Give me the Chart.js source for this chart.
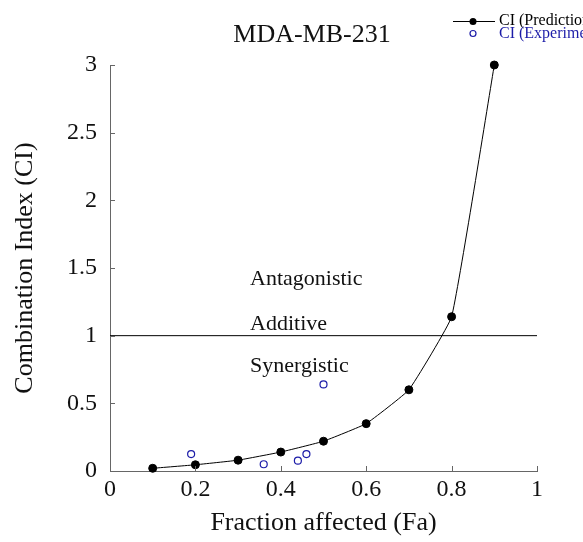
<!DOCTYPE html>
<html>
<head>
<meta charset="utf-8">
<script src="https://cdn.jsdelivr.net/npm/chart.js@4.4.0/dist/chart.umd.min.js"></script>
<style>
body{margin:0;background:#fff}
</style>
</head>
<body>
<canvas id="ci" width="583" height="542"></canvas>
<script>
// values
var faPredicted = [0.1, 0.2, 0.3, 0.4, 0.5, 0.6, 0.7, 0.8, 0.9]
var ciPredicted = [0.02, 0.046, 0.08, 0.14, 0.22, 0.35, 0.6, 1.14, 3.0]
var faExperimental = [0.19, 0.36, 0.44, 0.46, 0.5]
var ciExperimental = [0.125, 0.05, 0.076, 0.125, 0.64]
var additiveFa = [0, 1]
var additiveCi = [1, 1]
var regionLabels = ['Antagonistic', 'Additive', 'Synergistic']
var regionCi = [1.415, 1.083, 0.774]
var regionFa = 0.328
var xTicks = [0, 0.2, 0.4, 0.6, 0.8, 1]
var yTicks = [0, 0.5, 1, 1.5, 2, 2.5, 3]

var serif = "'Liberation Serif', 'Times New Roman', serif"
var blue = '#1c1ca8'

function pts(xs, ys) {
    return xs.map(function (x, i) { return {x: x, y: ys[i]} })
}

// inward ticks, title, region words and the small legend
var decor = {
    id: 'decor',
    afterDraw: function (chart) {
        var ctx = chart.ctx
        var xs = chart.scales.x, ys = chart.scales.y
        var a = chart.chartArea
        ctx.save()
        ctx.strokeStyle = '#666'
        ctx.lineWidth = 1
        ctx.beginPath()
        xTicks.forEach(function (v) {
            var px = Math.round(xs.getPixelForValue(v)) + 0.5
            ctx.moveTo(px, a.bottom)
            ctx.lineTo(px, a.bottom - 5)
        })
        yTicks.forEach(function (v) {
            var py = Math.round(ys.getPixelForValue(v)) + 0.5
            ctx.moveTo(a.left, py)
            ctx.lineTo(a.left + 5, py)
        })
        ctx.stroke()

        ctx.fillStyle = '#111'
        ctx.textBaseline = 'middle'
        ctx.textAlign = 'center'
        ctx.font = '26px ' + serif
        ctx.fillText('MDA-MB-231', 312, 35)

        ctx.textAlign = 'left'
        ctx.font = '22px ' + serif
        regionLabels.forEach(function (t, i) {
            ctx.fillText(t, xs.getPixelForValue(regionFa), ys.getPixelForValue(regionCi[i]))
        })

        // legend
        ctx.font = '16px ' + serif
        ctx.strokeStyle = '#000'
        ctx.beginPath()
        ctx.moveTo(453, 21.5)
        ctx.lineTo(495, 21.5)
        ctx.stroke()
        ctx.fillStyle = '#000'
        ctx.beginPath()
        ctx.arc(473, 21.5, 3.5, 0, Math.PI * 2)
        ctx.fill()
        ctx.fillText('CI (Prediction)', 499, 21)
        ctx.strokeStyle = blue
        ctx.lineWidth = 1.2
        ctx.beginPath()
        ctx.arc(473, 33.5, 3, 0, Math.PI * 2)
        ctx.stroke()
        ctx.fillStyle = blue
        ctx.fillText('CI (Experimental)', 499, 33.5)
        ctx.restore()
    }
}

var config = {
    type: 'scatter',
    data: {
        datasets: [
            {
                label: 'Additive',
                data: pts(additiveFa, additiveCi),
                showLine: true,
                borderColor: '#000',
                borderWidth: 1,
                pointRadius: 0,
                clip: false
            },
            {
                label: 'CI (Prediction)',
                data: pts(faPredicted, ciPredicted),
                showLine: true,
                tension: 0.1,
                borderColor: '#000',
                borderWidth: 1,
                pointRadius: 4,
                pointBackgroundColor: '#000',
                pointBorderColor: '#000',
                clip: false
            },
            {
                label: 'CI (Experimental)',
                data: pts(faExperimental, ciExperimental),
                showLine: false,
                pointRadius: 3.5,
                pointBackgroundColor: '#fff',
                pointBorderColor: blue,
                pointBorderWidth: 1.2,
                clip: false
            }
        ]
    },
    options: {
        responsive: false,
        animation: false,
        layout: {padding: {left: 0, right: 46, top: 65, bottom: 0}},
        plugins: {legend: {display: false}, tooltip: {enabled: false}},
        scales: {
            x: {
                type: 'linear',
                min: 0,
                max: 1,
                afterFit: function (s) { s.height = 71 },
                afterBuildTicks: function (s) { s.ticks = xTicks.map(function (v) { return {value: v} }) },
                grid: {display: false, drawTicks: false},
                border: {display: true, color: '#666', width: 1},
                ticks: {
                    padding: 4,
                    color: '#111',
                    font: {family: serif, size: 24},
                    maxRotation: 0,
                    callback: function (v) { return String(v) }
                },
                title: {
                    display: true,
                    text: 'Fraction affected (Fa)',
                    color: '#111',
                    font: {family: serif, size: 26},
                    padding: {top: 0, bottom: 3}
                }
            },
            y: {
                type: 'linear',
                min: 0,
                max: 3,
                afterFit: function (s) { s.width = 110 },
                afterBuildTicks: function (s) { s.ticks = yTicks.map(function (v) { return {value: v} }) },
                grid: {display: false, drawTicks: false},
                border: {display: true, color: '#666', width: 1},
                ticks: {
                    padding: 13,
                    color: '#111',
                    font: {family: serif, size: 24},
                    callback: function (v) { return String(v) }
                },
                title: {
                    display: true,
                    text: 'Combination Index (CI)',
                    color: '#111',
                    font: {family: serif, size: 26},
                    padding: {top: 10, bottom: 0}
                }
            }
        }
    },
    plugins: [decor]
}

var chart = new Chart(document.getElementById('ci'), config)
</script>
</body>
</html>
